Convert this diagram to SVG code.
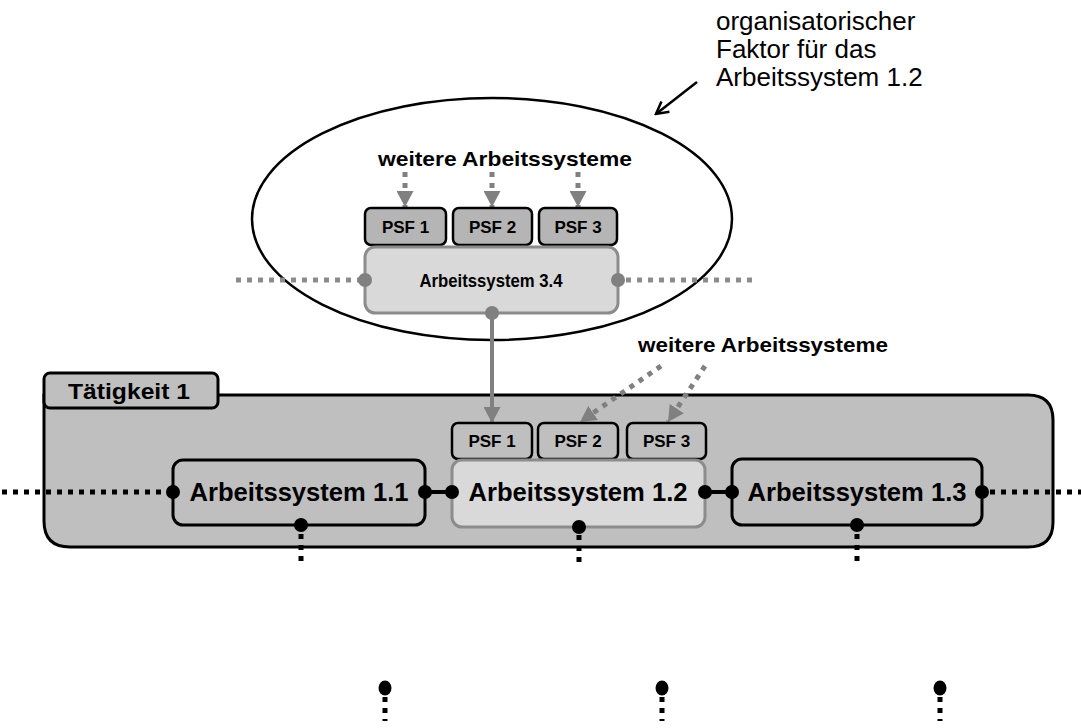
<svg xmlns="http://www.w3.org/2000/svg" width="1081" height="728" viewBox="0 0 1081 728">
<style>
  .t { font-family: "Liberation Sans", Arial, sans-serif; fill: #000; }
  .b { font-weight: bold; }
  .psfU { fill: #b5b5b5; stroke: #000; stroke-width: 2.5; }
  .psfL { fill: #bfbfbf; stroke: #000; stroke-width: 2.5; }
  .asDark { fill: #bfbfbf; stroke: #000; stroke-width: 3; }
  .asLight { fill: #d9d9d9; stroke: #8c8c8c; stroke-width: 3; }
  .portB { fill: #000; }
  .portG { fill: #808080; }
  .dotB { stroke: #000; stroke-width: 5; stroke-dasharray: 5 6; fill: none; }
  .dotG { stroke: #8c8c8c; stroke-width: 5; stroke-dasharray: 5 6; fill: none; }
  .arrG { stroke: #808080; stroke-width: 5; stroke-dasharray: 5 6; fill: none; marker-end: url(#headG); }
</style>
<defs>
  <marker id="headG" markerUnits="userSpaceOnUse" markerWidth="16" markerHeight="17" viewBox="0 0 16 17" refX="16" refY="8.5" orient="auto">
    <path d="M0,0 L16,8.5 L0,17 Z" fill="#808080"/>
  </marker>
  <marker id="headV" markerUnits="userSpaceOnUse" markerWidth="16" markerHeight="16" viewBox="0 0 16 16" refX="14" refY="8" orient="auto">
    <path d="M2,1.5 L14,8 L2,14.5" fill="none" stroke="#000" stroke-width="2.5"/>
  </marker>
</defs>

<!-- annotation -->
<g id="annotation">
  <text class="t" x="716" y="30" font-size="26">organisatorischer</text>
  <text class="t" x="716" y="58" font-size="26">Faktor für das</text>
  <text class="t" x="716" y="86" font-size="26">Arbeitssystem 1.2</text>
  <line x1="697" y1="82" x2="656" y2="114" stroke="#000" stroke-width="2.5" marker-end="url(#headV)"/>
</g>

<!-- organisational factor ellipse -->
<g id="ellipse">
  <ellipse cx="492" cy="219" rx="240" ry="121" fill="#fff" stroke="#000" stroke-width="2.5"/>
  <text class="t b" x="505" y="166" font-size="21" text-anchor="middle" textLength="254" lengthAdjust="spacingAndGlyphs">weitere Arbeitssysteme</text>
</g>

<!-- Tätigkeit container -->
<g id="taetigkeit1">
  <path d="M44,395 H1028 Q1053,395 1053,420 V522 Q1053,547 1028,547 H70 Q44,547 44,521 Z" fill="#bfbfbf" stroke="#000" stroke-width="3"/>
  <rect x="44" y="373" width="174" height="35" rx="6" fill="#bfbfbf" stroke="#000" stroke-width="3"/>
  <text class="t b" x="129" y="399" font-size="22" text-anchor="middle" textLength="122" lengthAdjust="spacingAndGlyphs">Tätigkeit 1</text>
</g>

<!-- connectors -->
<g id="connectors">
  <line class="dotG" x1="236" y1="280" x2="360" y2="280"/>
  <line class="dotG" x1="626" y1="280" x2="758" y2="280"/>
  <line class="arrG" x1="405" y1="172" x2="405" y2="207"/>
  <line class="arrG" x1="492" y1="172" x2="492" y2="207"/>
  <line class="arrG" x1="578" y1="172" x2="578" y2="207"/>
  <line x1="492" y1="313" x2="492" y2="423" stroke="#808080" stroke-width="4" marker-end="url(#headG)"/>
  <line class="arrG" x1="661" y1="366" x2="580" y2="422"/>
  <line class="arrG" x1="705" y1="366" x2="668" y2="422"/>
  <line class="dotB" x1="2" y1="492" x2="170" y2="492"/>
  <line class="dotB" x1="990" y1="492" x2="1081" y2="492"/>
  <line x1="425" y1="492" x2="452" y2="492" stroke="#000" stroke-width="4"/>
  <line x1="705" y1="492" x2="732" y2="492" stroke="#000" stroke-width="4"/>
  <line class="dotB" x1="301" y1="534" x2="301" y2="563" stroke-dasharray="5 5"/>
  <line class="dotB" x1="579" y1="535" x2="579" y2="563" stroke-dasharray="5 5"/>
  <line class="dotB" x1="857" y1="534" x2="857" y2="563" stroke-dasharray="5 5"/>
  <line class="dotB" x1="385" y1="697" x2="385" y2="721" stroke-dasharray="5 5"/>
  <line class="dotB" x1="662" y1="697" x2="662" y2="721" stroke-dasharray="5 5"/>
  <line class="dotB" x1="940" y1="697" x2="940" y2="721" stroke-dasharray="5 5"/>
</g>

<!-- upper PSFs -->
<g id="psf1-top"><rect class="psfU" x="365" y="208" width="81" height="37" rx="6"/><text class="t b" x="405.5" y="233" font-size="17" text-anchor="middle">PSF 1</text></g>
<g id="psf2-top"><rect class="psfU" x="453" y="208" width="79" height="37" rx="6"/><text class="t b" x="492.5" y="233" font-size="17" text-anchor="middle">PSF 2</text></g>
<g id="psf3-top"><rect class="psfU" x="539" y="208" width="78" height="37" rx="6"/><text class="t b" x="578" y="233" font-size="17" text-anchor="middle">PSF 3</text></g>

<!-- Arbeitssystem 3.4 -->
<g id="as34">
  <rect class="asLight" x="365" y="247" width="253" height="66" rx="10"/>
  <text class="t b" x="491" y="287" font-size="18" text-anchor="middle" textLength="143" lengthAdjust="spacingAndGlyphs">Arbeitssystem 3.4</text>
  <circle class="portG" cx="365" cy="280" r="7"/>
  <circle class="portG" cx="618" cy="280" r="7"/>
  <circle class="portG" cx="492" cy="313" r="7"/>
</g>

<!-- lower PSFs -->
<g id="psf1"><rect class="psfL" x="452" y="423" width="80" height="36" rx="6"/><text class="t b" x="492" y="447" font-size="17" text-anchor="middle">PSF 1</text></g>
<g id="psf2"><rect class="psfL" x="538" y="423" width="80" height="36" rx="6"/><text class="t b" x="578" y="447" font-size="17" text-anchor="middle">PSF 2</text></g>
<g id="psf3"><rect class="psfL" x="627" y="423" width="79" height="36" rx="6"/><text class="t b" x="666.5" y="447" font-size="17" text-anchor="middle">PSF 3</text></g>

<!-- lower label -->
<g id="label-weitere">
  <text class="t b" x="763" y="352" font-size="21" text-anchor="middle" textLength="250" lengthAdjust="spacingAndGlyphs">weitere Arbeitssysteme</text>
</g>

<!-- Arbeitssysteme 1.x -->
<g id="as11">
  <rect class="asDark" x="173" y="460" width="252" height="65" rx="10"/>
  <text class="t b" x="299" y="501" font-size="25" text-anchor="middle" textLength="219" lengthAdjust="spacingAndGlyphs">Arbeitssystem 1.1</text>
  <circle class="portB" cx="173" cy="492" r="7"/>
  <circle class="portB" cx="425" cy="492" r="7"/>
  <circle class="portB" cx="301" cy="525" r="7"/>
</g>
<g id="as12">
  <rect class="asLight" x="452" y="460" width="253" height="67" rx="10"/>
  <text class="t b" x="578" y="501" font-size="25" text-anchor="middle" textLength="219" lengthAdjust="spacingAndGlyphs">Arbeitssystem 1.2</text>
  <circle class="portB" cx="452" cy="492" r="7"/>
  <circle class="portB" cx="705" cy="492" r="7"/>
  <circle class="portB" cx="579" cy="527" r="7"/>
</g>
<g id="as13">
  <rect class="asDark" x="732" y="459" width="250" height="66" rx="10"/>
  <text class="t b" x="857" y="501" font-size="25" text-anchor="middle" textLength="219" lengthAdjust="spacingAndGlyphs">Arbeitssystem 1.3</text>
  <circle class="portB" cx="732" cy="492" r="7"/>
  <circle class="portB" cx="982" cy="492" r="7"/>
  <circle class="portB" cx="857" cy="525" r="7"/>
</g>

<!-- lower isolated ports -->
<g id="ports-bottom">
  <ellipse class="portB" cx="385" cy="688" rx="6.5" ry="7.5"/>
  <ellipse class="portB" cx="662" cy="688" rx="6.5" ry="7.5"/>
  <ellipse class="portB" cx="940" cy="688" rx="6.5" ry="7.5"/>
</g>
</svg>
